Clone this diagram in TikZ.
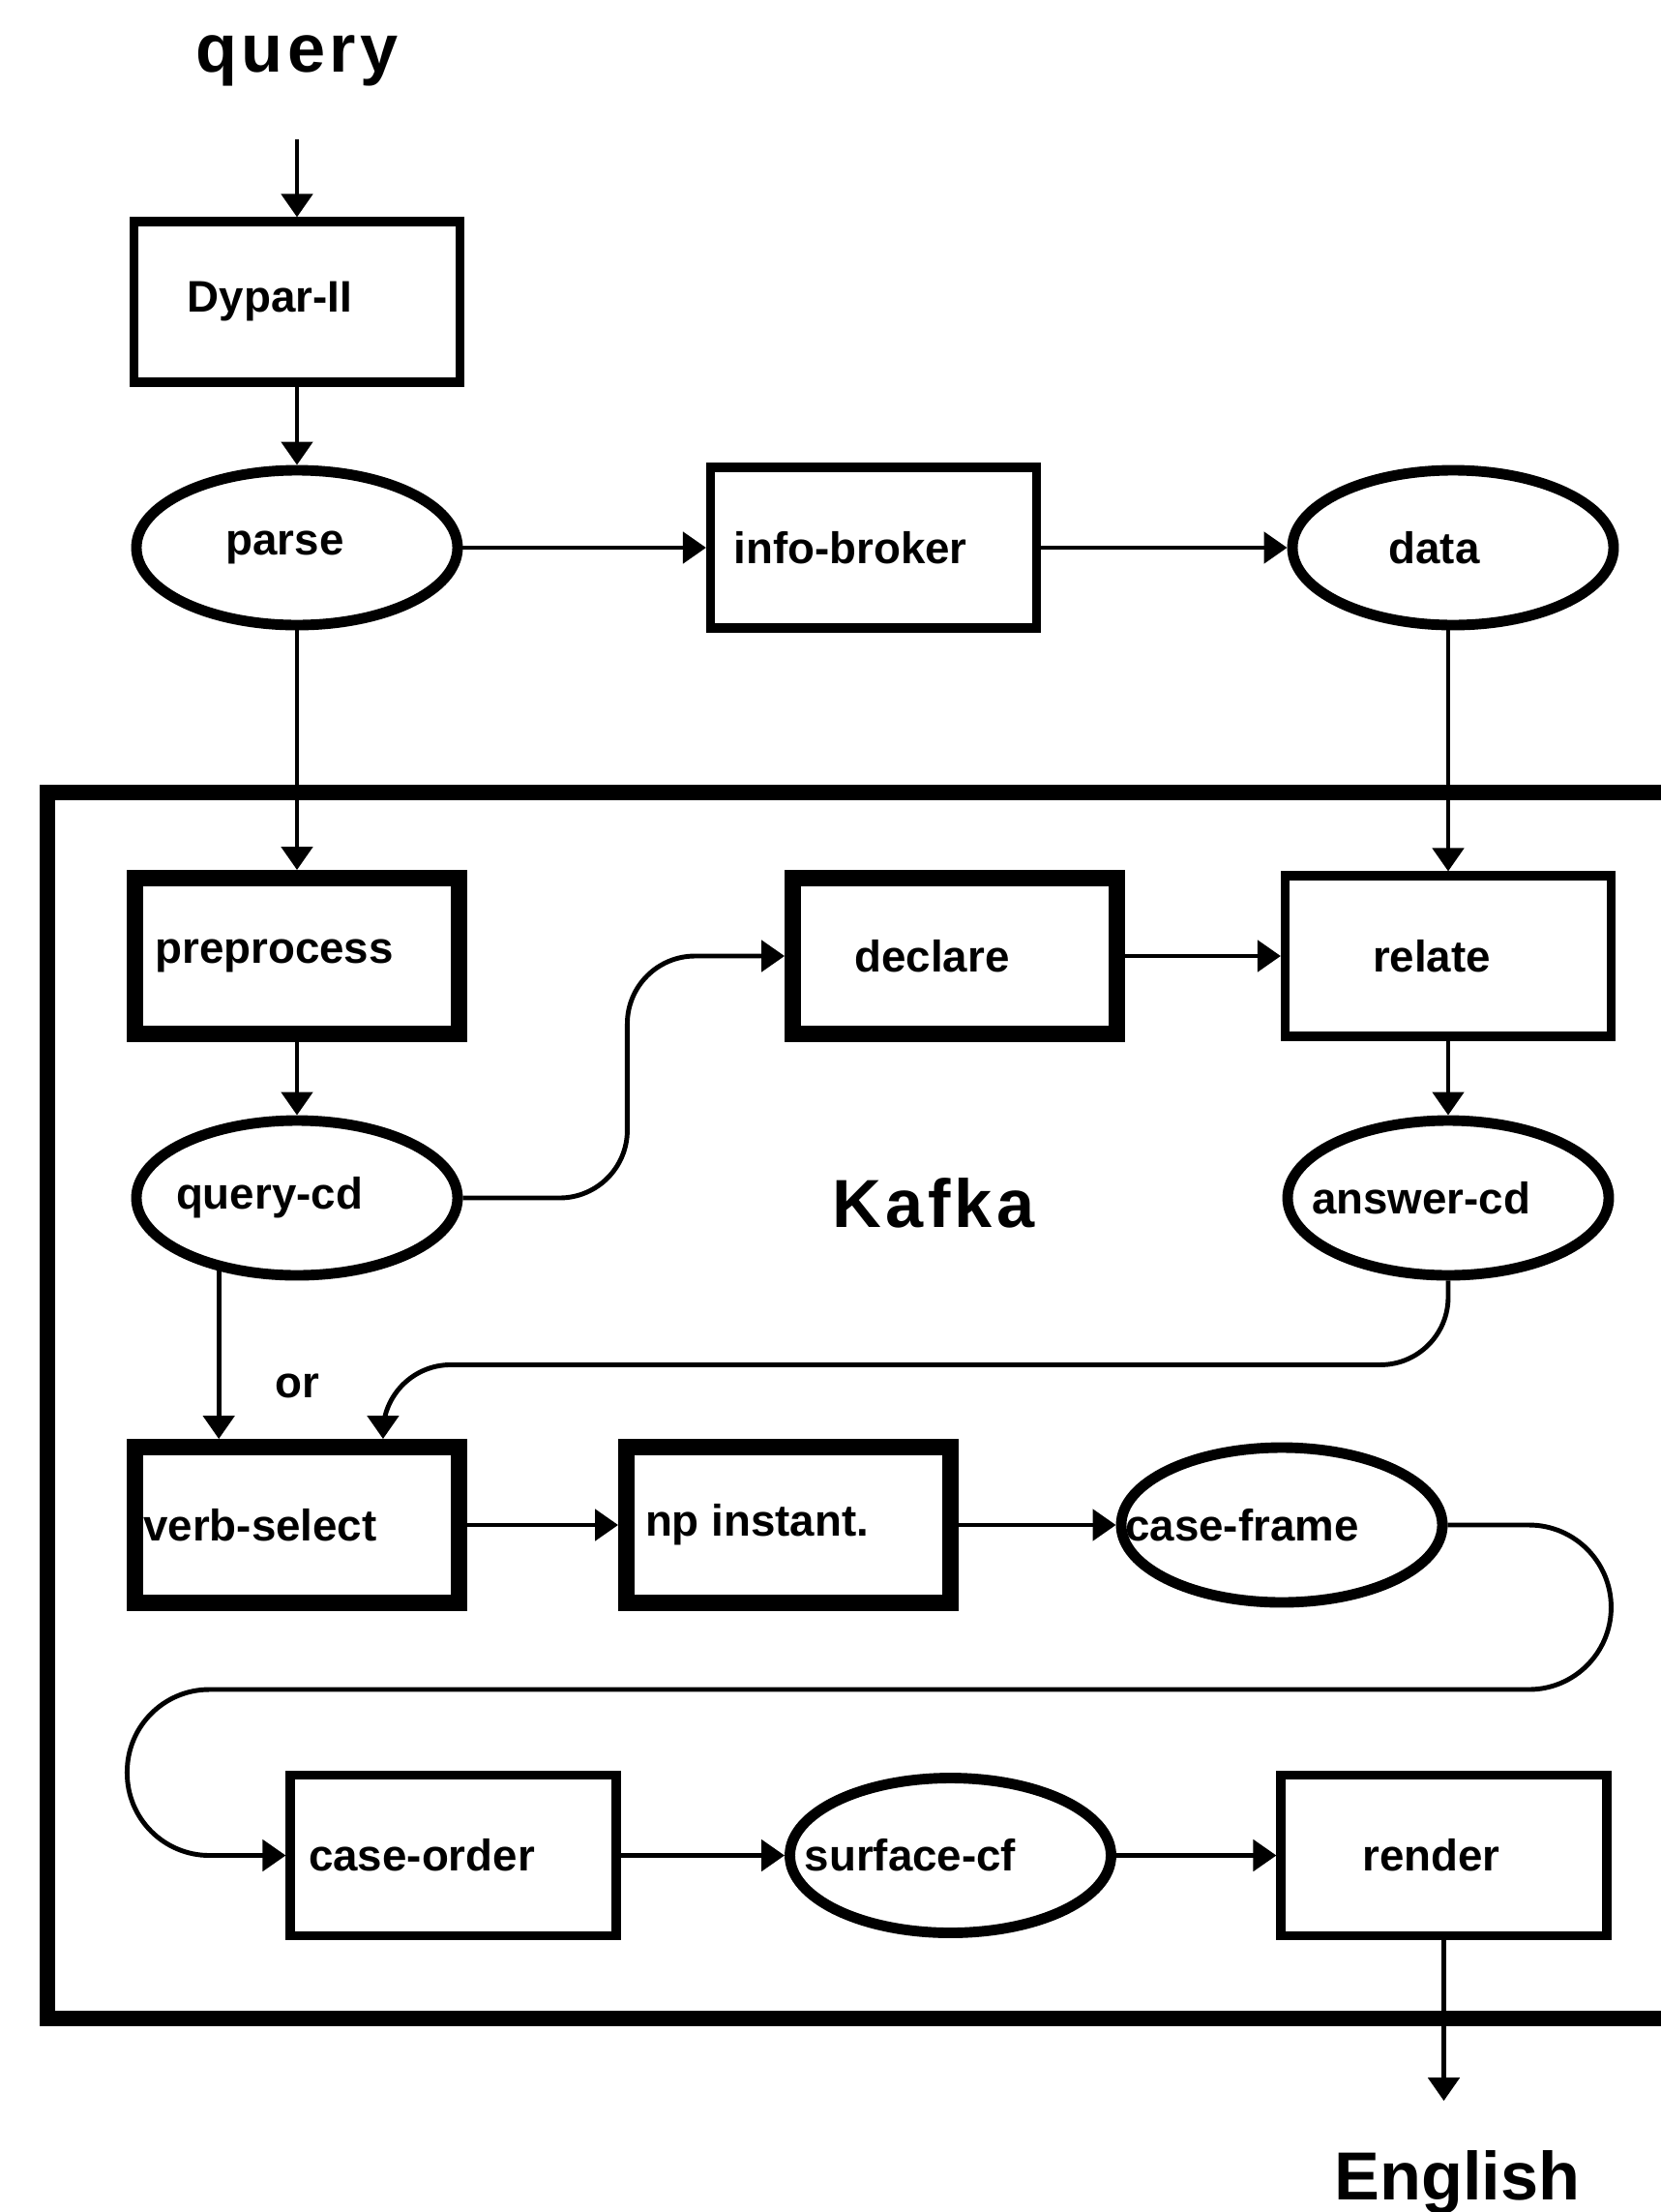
\documentclass[tikz,border=0pt]{standalone}
\usepackage{fontspec}
\setmainfont{Liberation Sans}
\usetikzlibrary{shapes,arrows.meta,positioning}

\newcommand{\boxtext}[2][0.5cm]{\makebox[0pt]{#2\hspace*{#1}}}

\begin{document}
\begin{tikzpicture}[->,>={Triangle[length=0.24cm,width=0.32cm]},line width=1.4pt,node distance=2.5cm,font=\fontsize{13}{15}\selectfont\bfseries]
\tikzstyle{module} = [rectangle, draw, line width=2.6pt, minimum width=3.37cm, minimum height=1.66cm, inner sep=0pt]
\tikzstyle{heavy module} = [module, line width=4.8pt, minimum width=3.35cm, minimum height=1.61cm]
\tikzstyle{store} = [ellipse, draw, line width=3.1pt, minimum width=3.32cm, minimum height=1.6cm, inner sep=0pt]
\tikzstyle{title} = [inner sep=0pt, font=\fontsize{20}{24}\selectfont\bfseries]
\tikzstyle{spaced title} = [title, font=\fontsize{20}{24}\selectfont\bfseries\addfontfeatures{LetterSpace=6}]
\useasboundingbox (0,0) rectangle (17.16,-22.86);
\node[spaced title] (query) at (3.07,-0.63) {query};
\node[module] (dypar) [below of=query, node distance=2.49cm] {\boxtext[0.56cm]{Dypar-II}};
\node[store] (parse) [below of=dypar, node distance=2.54cm] {\boxtext[0.25cm]{parse}};
\node[module] (broker) [right of=parse, node distance=5.96cm] {\boxtext[0.48cm]{info-broker}};
\node[store] (data) [right of=broker, node distance=5.99cm] {\boxtext[0.39cm]{data}};
\node[heavy module] (preprocess) [below of=parse, node distance=4.22cm] {\boxtext[0.47cm]{preprocess}};
\node[heavy module] (declare) [right of=preprocess, node distance=6.8cm] {\boxtext[0.47cm]{declare}};
\node[module] (relate) [right of=declare, node distance=5.1cm] {\boxtext[0.34cm]{relate}};
\node[store] (querycd) [below of=preprocess] {\boxtext[0.57cm]{query-cd}};
\node[store] (answercd) [below of=relate] {\boxtext[0.56cm]{answer-cd}};
\node[spaced title] (kafka) [right of=querycd, node distance=6.58cm, yshift=-0.05cm] {Kafka};
\node[inner sep=0pt] (or) [below of=querycd, node distance=1.94cm] {or};
\node[heavy module] (verb) [below of=querycd, node distance=3.38cm] {\boxtext[0.76cm]{verb-select}};
\node[heavy module] (np) [right of=verb, node distance=5.08cm] {\boxtext[0.65cm]{np instant.}};
\node[store] (caseframe) [right of=np, node distance=5.1cm] {\boxtext[0.82cm]{case-frame}};
\node[module] (caseorder) at (4.685,-19.175) {\boxtext[0.65cm]{case-order}};
\node[store] (surface) [right of=caseorder, node distance=5.14cm] {\boxtext[0.83cm]{surface-cf}};
\node[module] (render) [right of=surface, node distance=5.1cm] {\boxtext[0.26cm]{render}};
\node[title] (english) [below of=render, node distance=3.38cm, xshift=0.14cm] {English};
% Kafka frame, open to the right
\draw[-, line width=4.3pt] (17.4,-8.19) -| (0.49,-20.86) -- (17.4,-20.86);
\draw[shorten <=0.52cm] (query) -- (dypar);
\draw (dypar) -- (parse);
\draw (parse) -- (broker);
\draw (broker) -- (data);
\draw (parse) -- (preprocess);
\draw (data.south -| relate.north) -- (relate.north);
\draw (preprocess) -- (querycd);
\draw (relate) -- (answercd);
\draw[rounded corners=0.7cm] (querycd.east) -- ++(1.7,0) |- (declare.west);
\draw (declare) -- (relate);
\draw (querycd.223) -- (querycd.223 |- verb.north);
\draw[rounded corners=0.7cm] (answercd.south) -- ++(0,-0.87) -| (verb.45);
\draw (verb) -- (np);
\draw (np) -- (caseframe);
\draw[rounded corners=0.85cm] (caseframe.east) -- ++(1.69,0) |- ++(-15.34,-1.7) |- (caseorder.west);
\draw (caseorder) -- (surface);
\draw (surface) -- (render);
\draw[shorten >=0.49cm] (render) -- (render |- english.north);
\end{tikzpicture}
\end{document}
